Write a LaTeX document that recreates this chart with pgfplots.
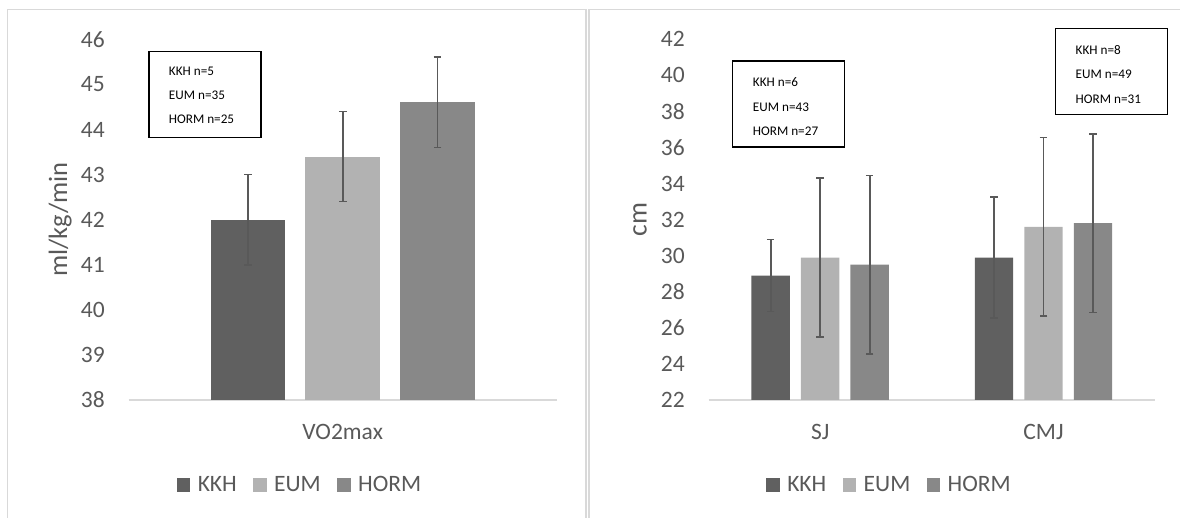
\documentclass[border=0pt]{standalone}
\usepackage{fontspec}
\setmainfont{Carlito}
\usepackage{pgfplots}
\pgfplotsset{compat=1.18}
\definecolor{cKKH}{HTML}{606060}
\definecolor{cEUM}{HTML}{B2B2B2}
\definecolor{cHORM}{HTML}{888888}
\definecolor{txt}{HTML}{595959}
\definecolor{framec}{HTML}{D9D9D9}
\definecolor{errc}{HTML}{595959}
\pgfplotsset{
  mystyle/.style={
    scale only axis,
    height=180.35bp,
    axis x line*=bottom, axis y line*=left,
    y axis line style={draw=none},
    x axis line style={draw=framec, line width=0.8bp},
    major tick length=0pt,
    tick style={draw=none},
    /pgf/number format/assume math mode=true,
    ticklabel style={font=\fontsize{11.75bp}{14bp}\selectfont, text=txt},
    yticklabel style={anchor=east, inner sep=0pt, xshift=-11.7bp},
    xticklabel style={anchor=base, inner sep=0pt, yshift=-19.9bp},
    error bars/y dir=both,
    error bars/y explicit,
    error bars/error bar style={line width=0.85bp, color=errc},
    error bars/error mark options={rotate=90, mark size=1.9bp, line width=0.85bp, color=errc},
    legend columns=3,
    legend style={draw=none, fill=none, inner sep=0pt, anchor=center,
      font=\fontsize{11.75bp}{14bp}\selectfont, nodes={text=txt},
      /tikz/every odd column/.append style={column sep=1.8bp},
      /tikz/every even column/.append style={column sep=6.2bp}},
  },
  sqlegend/.style={
    legend image code/.code={\fill[##1] (0bp,-3.35bp) rectangle (6.7bp,3.35bp);},
  },
}
\begin{document}
\begin{tikzpicture}[x=0.5bp, y=0.5bp]
\path[use as bounding box] (0,0) rectangle (1180,518);
% panel frames
\draw[framec, line width=0.8bp] (7.5,0) -- (7.5,508.5) -- (586,508.5) -- (586,0);
\draw[framec, line width=0.8bp] (589,0) -- (589,508.5) -- (1180,508.5);

% left chart
\begin{axis}[mystyle,
  at={(64.3bp,59bp)}, anchor=south west,
  width=214.1bp,
  ymin=38, ymax=46, ytick={38,39,...,46},
  xmin=-1, xmax=1, xtick={0}, xticklabels={VO2max},
  ybar=10.1bp, bar width=37.3bp, sqlegend,
  ylabel={ml/kg/min},
  every axis y label/.style={at={(rel axis cs:-0.1595,0.5)}, rotate=90, anchor=center,
    font=\fontsize{13.25bp}{16bp}\selectfont, text=txt},
  legend style={at={(rel axis cs:0.4026,-0.2357)}},
]
\addplot[fill=cKKH, draw=none] coordinates {(0,42.0) +- (0,1.0)};
\addplot[fill=cEUM, draw=none] coordinates {(0,43.4) +- (0,1.0)};
\addplot[fill=cHORM, draw=none] coordinates {(0,44.6) +- (0,1.0)};
\legend{KKH,EUM,HORM}
\end{axis}

% right chart
\begin{axis}[mystyle,
  at={(354.25bp,59bp)}, anchor=south west,
  width=223.3bp,
  ymin=22, ymax=42, ytick={22,24,...,42},
  xmin=-0.5, xmax=1.5, xtick={0,1}, xticklabels={SJ,CMJ},
  ybar=5.55bp, bar width=19.2bp, sqlegend,
  ylabel={cm},
  every axis y label/.style={at={(rel axis cs:-0.1534,0.5)}, rotate=90, anchor=center,
    font=\fontsize{13.75bp}{16bp}\selectfont, text=txt},
  legend style={at={(rel axis cs:0.4075,-0.2357)}},
]
\addplot[fill=cKKH, draw=none] coordinates {(0,28.9) +- (0,2.0) (1,29.9) +- (0,3.35)};
\addplot[fill=cEUM, draw=none] coordinates {(0,29.9) +- (0,4.4) (1,31.6) +- (0,4.95)};
\addplot[fill=cHORM, draw=none] coordinates {(0,29.5) +- (0,4.95) (1,31.8) +- (0,4.95)};
\legend{KKH,EUM,HORM}
\end{axis}

% annotation boxes
\begin{scope}[every node/.style={font=\fontsize{6.6bp}{8bp}\selectfont, anchor=west, inner sep=0pt}]
\draw[black, line width=0.6bp] (149,466.3) rectangle (261,380.7);
\node at (168.5,447) {KKH n=5};
\node at (168.5,423) {EUM n=35};
\node at (168.5,399) {HORM n=25};

\draw[black, line width=0.6bp] (732.2,457) rectangle (844.7,371);
\node at (752.5,435.7) {KKH n=6};
\node at (752.5,410.3) {EUM n=43};
\node at (752.5,386.3) {HORM n=27};

\draw[black, line width=0.6bp] (1055.8,489.7) rectangle (1167.1,403.7);
\node at (1075.3,468) {KKH n=8};
\node at (1075.3,443.3) {EUM n=49};
\node at (1075.3,419) {HORM n=31};
\end{scope}
\end{tikzpicture}
\end{document}
